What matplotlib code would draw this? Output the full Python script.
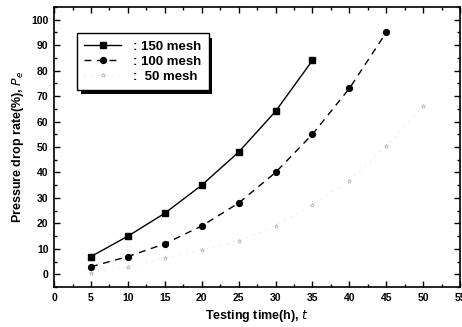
import matplotlib
matplotlib.use("Agg")
import matplotlib.pyplot as plt
from matplotlib.ticker import MultipleLocator
import matplotlib.patheffects as pe

plt.rcParams['font.family'] = ['Liberation Sans', 'DejaVu Sans']

t150 = [5, 10, 15, 20, 25, 30, 35]
p150 = [7, 15, 24, 35, 48, 64, 84]
t100 = [5, 10, 15, 20, 25, 30, 35, 40, 45]
p100 = [3, 7, 12, 19, 28, 40, 55, 73, 95]
t50 = [5, 10, 15, 20, 25, 30, 35, 40, 45, 50]
p50 = [0.5, 3, 6.4, 9.6, 13.2, 19, 27.4, 36.8, 50.2, 66]
labels = [': 150 mesh', ': 100 mesh', ':  50 mesh']

fig = plt.figure(figsize=(4.62, 3.27), dpi=100)
ax = fig.add_axes([0.117, 0.122, 0.879, 0.857])

l1, = ax.plot(t150, p150, '-', color='black', lw=1.0, marker='s', ms=4.2, label=labels[0])
l2, = ax.plot(t100, p100, color='black', lw=1.0, ls=(0, (5, 4)), marker='o', ms=4.2, label=labels[1])
l3, = ax.plot(t50, p50, color='#d8d8d8', lw=0.5, ls=(0, (2, 8)), marker='*', ms=3.2,
              mec='#aaaaaa', mfc='none', mew=0.4, label=labels[2])

ax.set_xlim(0, 55)
ax.set_ylim(-5, 105)
ax.xaxis.set_major_locator(MultipleLocator(5))
ax.xaxis.set_minor_locator(MultipleLocator(2.5))
ax.yaxis.set_major_locator(MultipleLocator(10))
ax.yaxis.set_minor_locator(MultipleLocator(5))
ax.set_yticks(range(0, 101, 10))
ax.tick_params(which='both', direction='in', top=True, right=True, width=1.0)
ax.tick_params(which='major', length=4, labelsize=7.5, pad=4)
ax.tick_params(which='minor', length=2)
for lab in ax.get_xticklabels() + ax.get_yticklabels():
    lab.set_fontweight('bold')
for s in ax.spines.values():
    s.set_linewidth(1.2)

ax.set_xlabel('Testing time(h), $\\mathit{t}$', fontsize=9, fontweight='bold', labelpad=4)
ax.set_ylabel('Pressure drop rate(%), $\\mathit{P_e}$', fontsize=9, fontweight='bold', labelpad=4)

leg = ax.legend(handles=[l1, l2, l3], loc='upper left', bbox_to_anchor=(0.057, 0.905),
                frameon=True, fancybox=False, shadow=False, framealpha=1.0,
                prop={'weight': 'bold', 'size': 9.5}, handlelength=2.8, borderpad=0.55,
                labelspacing=0.2, handletextpad=0.9, borderaxespad=0)
fr = leg.get_frame()
fr.set_edgecolor('black')
fr.set_facecolor('white')
fr.set_linewidth(1.0)
fr.set_path_effects([pe.SimplePatchShadow(offset=(2.5, -3), shadow_rgbFace='black', alpha=1.0), pe.Normal()])

fig.savefig('out.png', dpi=100)
